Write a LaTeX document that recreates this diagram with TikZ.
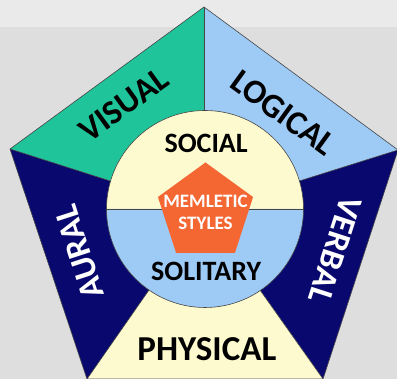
\documentclass[tikz,border=0pt]{standalone}
\usepackage{fontspec}
\setmainfont{Carlito}
\usepackage{tikz}
\usetikzlibrary{shapes,calc}

\definecolor{bggray}{RGB}{222,222,222}
\definecolor{bgtop}{RGB}{234,234,234}
\definecolor{visualgreen}{RGB}{31,196,154}
\definecolor{logicblue}{RGB}{158,202,246}
\definecolor{navy}{RGB}{8,8,110}
\definecolor{paleyellow}{RGB}{252,250,206}
\definecolor{memorange}{RGB}{244,102,50}
\definecolor{edgegray}{RGB}{70,70,70}

\begin{document}
\begin{tikzpicture}[x=1pt, y=1pt]
\tikzstyle{outline}=[draw=edgegray, line width=0.6pt, line join=round]
\tikzstyle{lbl}=[inner sep=0pt, font=\bfseries\fontsize{34}{34}\selectfont, text=black]
\tikzstyle{lblw}=[lbl, text=white]
\tikzstyle{half}=[inner sep=0pt, font=\bfseries\fontsize{28}{28}\selectfont, text=black]
\tikzstyle{hub}=[regular polygon, regular polygon sides=5, minimum size=100pt, inner sep=-14pt,
  fill=memorange, text=white, align=center, font=\bfseries\fontsize{19}{22}\selectfont]

  % background
  \useasboundingbox (0,0) rectangle (397,379);
  \fill[bggray] (0,0) rectangle (397,379);
  \fill[bgtop]  (0,352) rectangle (397,379);

  % pentagon corners
  \coordinate (O)  at (204,168);
  \coordinate (T)  at (204,372);
  \coordinate (R)  at (398,229);
  \coordinate (BR) at (323,0);
  \coordinate (BL) at (87,0);
  \coordinate (L)  at (10,230);

  % sectors
  \fill[visualgreen] (O) -- (L) -- (T) -- cycle;
  \fill[logicblue]   (O) -- (T) -- (R) -- cycle;
  \fill[navy]        (O) -- (R) -- (BR) -- cycle;
  \fill[paleyellow]  (O) -- (BR) -- (BL) -- cycle;
  \fill[navy]        (O) -- (BL) -- (L) -- cycle;

  \path[outline] (T) -- (R) -- (BR) -- (BL) -- (L) -- cycle;
  \path[outline] (O) -- (T);
  \path[outline] (O) -- (R);
  \path[outline] (O) -- (BR);
  \path[outline] (O) -- (BL);
  \path[outline] (O) -- (L);

  % social / solitary circle
  \coordinate (C) at (205,170);
  \fill[paleyellow] ([shift={(0:98.5)}]C) arc (0:180:98.5) -- cycle;
  \fill[logicblue]  ([shift={(180:98.5)}]C) arc (180:360:98.5) -- cycle;
  \path[outline] ([shift={(180:98.5)}]C) -- ([shift={(0:98.5)}]C);
  \path[outline] (C) circle (98.5);

  \node[hub] (styles) at (205.5,166.5) {MEMLETIC\\STYLES};

  % labels
  \node[lbl,  rotate=36]   (visual)   at ([shift={(127:133)}]O)   {VISUAL};
  \node[lbl,  rotate=-36]  (logical)  at ([shift={(51:126)}]O)    {LOGICAL};
  \node[lblw, rotate=-108] (verbal)   at ([shift={(-16.6:137)}]O) {VERBAL};
  \node[lblw, rotate=108]  (aural)    at ([shift={(198.3:131)}]O) {AURAL};
  \node[lbl,  font=\bfseries\fontsize{35}{35}\selectfont] (physical) at ([shift={(-88.8:138)}]O) {PHYSICAL};

  \node[half] (social)   at ([shift={(89:66)}]C)  {SOCIAL};
  \node[half] (solitary) at ([shift={(-89:62)}]C) {SOLITARY};

\end{tikzpicture}
\end{document}
